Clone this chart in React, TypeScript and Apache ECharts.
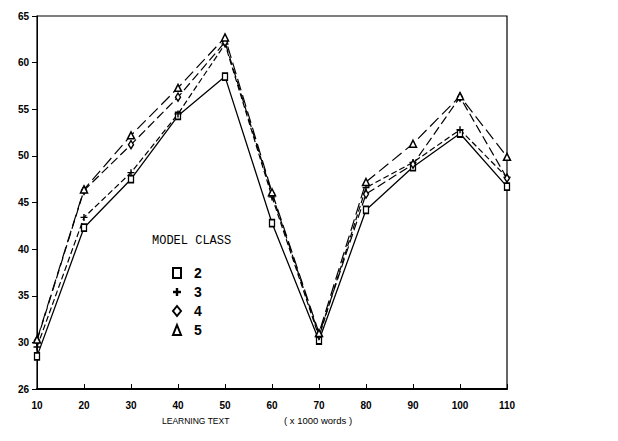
import React, { useEffect, useRef } from "react";
import * as echarts from "echarts";

const learningText = [10, 20, 30, 40, 50, 60, 70, 80, 90, 100, 110];
const class2 = [28.5, 42.3, 47.5, 54.3, 58.5, 42.8, 30.2, 44.2, 48.8, 52.4, 46.7];
const class3 = [29.5, 43.4, 48.2, 54.5, 62.0, 45.6, 30.6, 46.6, 49.3, 52.8, 47.7];
const class4 = [30.2, 46.3, 51.2, 56.3, 62.2, 45.9, 30.8, 45.9, 49.1, 56.3, 47.6];
const class5 = [30.3, 46.4, 52.2, 57.3, 62.7, 46.1, 31.0, 47.2, 51.3, 56.4, 49.9];
const yTicks = { min: 25, max: 65, step: 5 };

const PLUS = "path://M4,0H6V4H10V6H6V10H4V6H0V4H4Z";
const PLUS_BOLD = "path://M3.5,0H6.5V3.5H10V6.5H6.5V10H3.5V6.5H0V3.5H3.5Z";

export default function App() {
  const ref = useRef<HTMLDivElement>(null);
  useEffect(() => {
    if (!ref.current) return;
    const chart = echarts.init(ref.current, null, { renderer: "svg" });
    const mk = (arr: number[]) => learningText.map((x, i) => [x, arr[i]]);
    const base = {
      type: "line",
      lineStyle: { color: "#000", width: 1.3 },
    };
    chart.setOption({
      animation: false,
      backgroundColor: "#fff",
      grid: {
        left: 37,
        right: 111,
        top: 16,
        bottom: 52,
        show: true,
        borderColor: "#000",
        borderWidth: 1.2,
      },
      xAxis: {
        type: "value",
        min: 10,
        max: 110,
        interval: 10,
        splitLine: { show: false },
        axisLine: { lineStyle: { color: "#000", width: 2 } },
        axisTick: { inside: true, length: 5, lineStyle: { color: "#000" } },
        axisLabel: {
          color: "#000",
          fontFamily: "Liberation Sans",
          fontWeight: "bold",
          fontSize: 10,
          margin: 11,
        },
      },
      yAxis: {
        type: "value",
        min: yTicks.min,
        max: yTicks.max,
        interval: yTicks.step,
        splitLine: { show: false },
        axisLine: { show: true, lineStyle: { color: "#000", width: 1 } },
        axisTick: { show: true, length: 5, lineStyle: { color: "#000" } },
        axisLabel: {
          color: "#000",
          fontFamily: "Liberation Sans",
          fontWeight: "bold",
          fontSize: 10,
          margin: 8,
          formatter: (v: number) => (v === 25 ? "26" : String(v)),
        },
      },
      legend: {
        orient: "vertical",
        left: 167,
        top: 260,
        itemWidth: 8,
        itemHeight: 10,
        itemGap: 3,
        textStyle: {
          color: "#000",
          fontFamily: "Liberation Sans",
          fontWeight: "bold",
          fontSize: 14,
          lineHeight: 16,
          padding: [0, 0, 0, 8],
        },
        data: [
          { name: "2", icon: "rect" },
          { name: "3", icon: PLUS_BOLD },
          { name: "4", icon: "diamond" },
          { name: "5", icon: "triangle" },
        ],
      },
      graphic: [
        {
          type: "text",
          left: 152,
          top: 235,
          style: {
            text: "MODEL CLASS",
            fontFamily: "Liberation Mono",
            fontSize: 12,
            fill: "#000",
          },
        },
        {
          type: "text",
          left: 162,
          top: 416,
          style: {
            text: "LEARNING TEXT",
            fontFamily: "Liberation Sans",
            fontSize: 8.5,
            fill: "#000",
          },
        },
        {
          type: "text",
          left: 284,
          top: 415,
          style: {
            text: "( x 1000 words )",
            fontFamily: "Liberation Sans",
            fontSize: 9.5,
            fill: "#000",
          },
        },
      ],
      series: [
        {
          ...base,
          name: "2",
          data: mk(class2),
          symbol: "rect",
          symbolSize: [5, 7],
          itemStyle: { color: "#fff", borderColor: "#000", borderWidth: 1.5 },
          lineStyle: { color: "#000", width: 1.3, type: "solid" },
        },
        {
          ...base,
          name: "3",
          data: mk(class3),
          symbol: PLUS,
          symbolSize: 7,
          itemStyle: { color: "#000", borderColor: "#000", borderWidth: 0 },
          lineStyle: { color: "#000", width: 1.2, type: [6, 3] },
        },
        {
          ...base,
          name: "4",
          data: mk(class4),
          symbol: "diamond",
          symbolSize: [5, 8],
          itemStyle: { color: "#fff", borderColor: "#000", borderWidth: 1.5 },
          lineStyle: { color: "#000", width: 1.2, type: [9, 4] },
        },
        {
          ...base,
          name: "5",
          data: mk(class5),
          symbol: "triangle",
          symbolSize: [7, 7],
          itemStyle: { color: "#fff", borderColor: "#000", borderWidth: 1.5 },
          lineStyle: { color: "#000", width: 1.2, type: [12, 5] },
        },
      ],
    });
    return () => chart.dispose();
  }, []);
  return (
    <div
      ref={ref}
      style={{ position: "fixed", left: 0, top: 0, width: 618, height: 441 }}
    />
  );
}
